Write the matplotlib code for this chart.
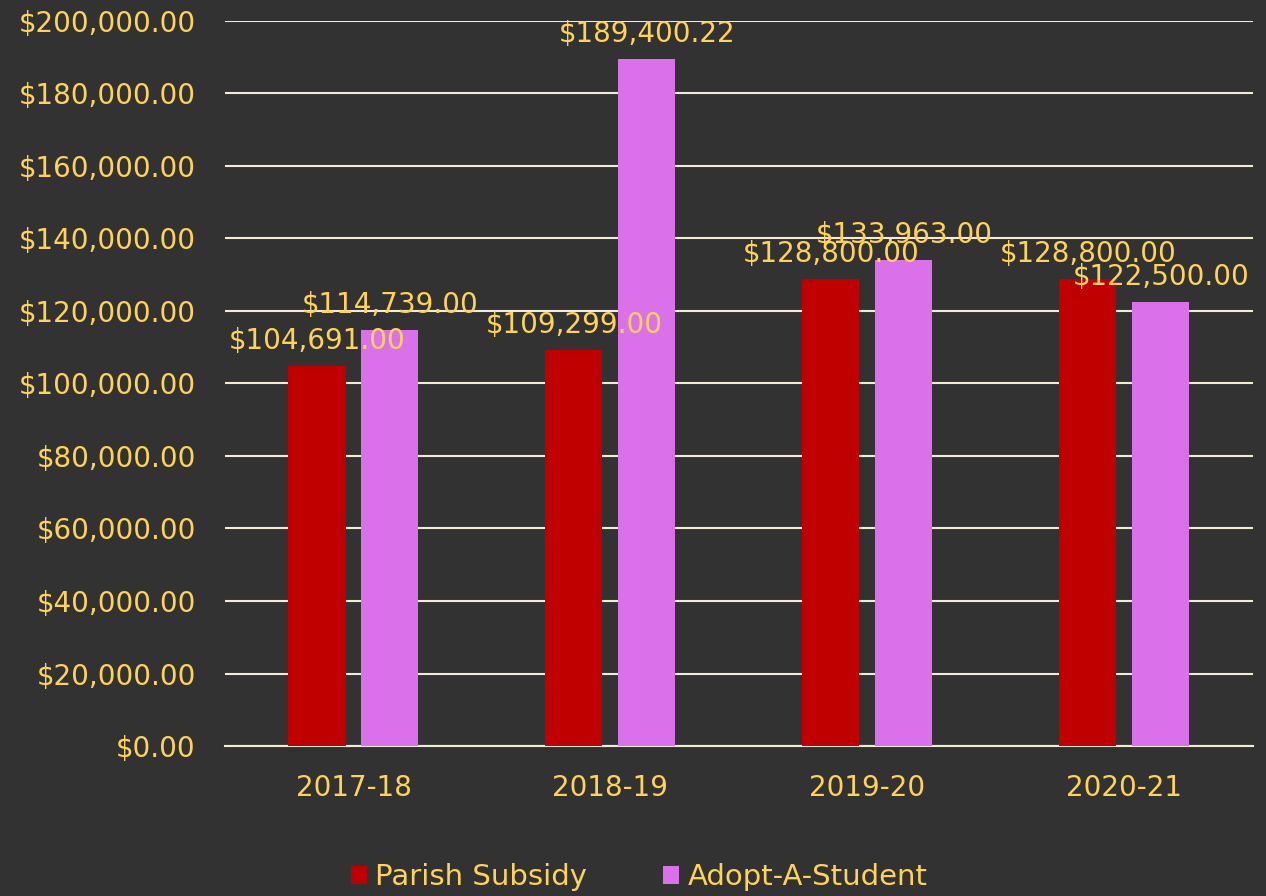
import matplotlib.pyplot as plt
import numpy as np

years = ['2017-18', '2018-19', '2019-20', '2020-21']
parish = [104691.00, 109299.00, 128800.00, 128800.00]
adopt = [114739.00, 189400.22, 133963.00, 122500.00]

bg = '#323232'
txt = '#FFD355'
grid_col = '#F2EBD5'
red = '#C00000'
pink = '#DA70EA'

plt.rcParams['font.family'] = ['DejaVu Sans']

fig = plt.figure(figsize=(12.66, 8.96), dpi=100, facecolor=bg)
ax = fig.add_axes([0.1777, 0.1674, 0.812, 0.8092])
ax.set_facecolor(bg)

x = np.arange(len(years))
w = 0.222
off = 0.142
b1 = ax.bar(x - off, parish, w, color=red, label='Parish Subsidy', zorder=3)
b2 = ax.bar(x + off, adopt, w, color=pink, label='Adopt-A-Student', zorder=3)

for bars in (b1, b2):
    for b in bars:
        v = b.get_height()
        ax.annotate(f'${v:,.2f}', (b.get_x() + b.get_width() / 2, v),
                    xytext=(0, 8), textcoords='offset points',
                    ha='center', va='bottom', color=txt, fontsize=20, zorder=4)

ax.set_xlim(-0.5, 3.5)
ax.set_ylim(0, 200000)
ax.set_yticks(np.arange(0, 200001, 20000))
ax.set_yticklabels([f'${v:,.2f}' for v in np.arange(0, 200001, 20000)])
ax.set_xticks(x)
ax.set_xticklabels(years)
ax.yaxis.grid(True, color=grid_col, linewidth=1.5, zorder=0)
ax.tick_params(axis='both', length=0, colors=txt, labelsize=20)
ax.tick_params(axis='x', pad=20)
ax.tick_params(axis='y', pad=21)
for s in ['top', 'right', 'left']:
    ax.spines[s].set_visible(False)
ax.spines['bottom'].set_color(grid_col)
ax.spines['bottom'].set_linewidth(1.5)

leg = fig.legend(loc='center', bbox_to_anchor=(0.505, 0.021), ncol=2, frameon=False,
                 fontsize=21, handlelength=0.55, handleheight=0.55, handletextpad=0.3,
                 columnspacing=2.6)
for t in leg.get_texts():
    t.set_color(txt)

fig.savefig('out.png', dpi=100, facecolor=bg)
